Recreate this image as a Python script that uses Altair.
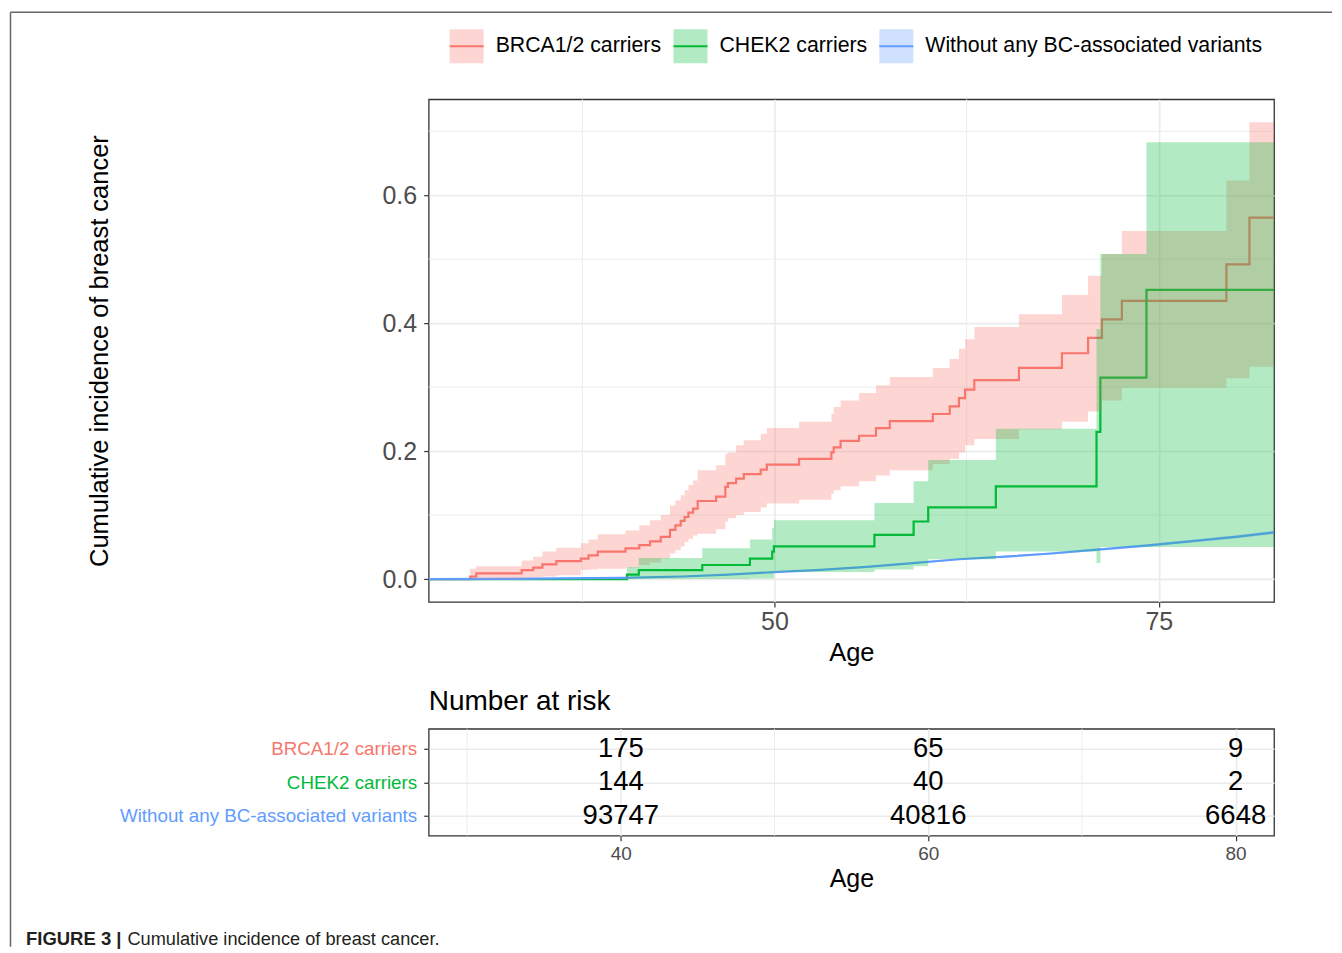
import altair as alt
import pandas as pd

GROUPS = ["BRCA1/2 carriers", "CHEK2 carriers", "Without any BC-associated variants"]
COLORS = ["#F8766D", "#00BA38", "#619CFF"]
LIGHT = ["rgba(248,118,109,0.3)", "rgba(0,186,56,0.3)", "rgba(97,156,255,0.3)"]

# ---- BRCA1/2 carriers: step curve (age, estimate, lower CI, upper CI)
brca_age = [27.5, 30.2, 30.6, 33.55, 34.3, 34.9, 35.8, 37.4, 37.9, 38.5, 40.3, 41.2,
            41.9, 42.6, 43.2, 43.55, 43.9, 44.15, 44.4, 44.7, 45.0, 46.2, 46.8, 46.97,
            47.5, 48.0, 49.1, 49.5, 51.6, 53.7, 53.85, 54.3, 55.5, 56.6, 57.5, 60.3,
            61.4, 62.0, 62.4, 63.0, 65.9, 68.7, 70.4, 71.3, 72.6, 79.4, 80.9, 82.5]
brca_est = [0.0, 0.004, 0.009, 0.014, 0.018, 0.023, 0.028, 0.032, 0.037, 0.043, 0.048, 0.053,
            0.059, 0.066, 0.077, 0.084, 0.091, 0.097, 0.104, 0.110, 0.122, 0.129, 0.144, 0.150,
            0.157, 0.164, 0.171, 0.179, 0.188, 0.198, 0.206, 0.216, 0.224, 0.236, 0.247, 0.258,
            0.270, 0.283, 0.296, 0.311, 0.330, 0.353, 0.377, 0.406, 0.435, 0.492, 0.565, 0.565]
brca_lo = [0.0, 0.0, 0.001, 0.002, 0.003, 0.004, 0.006, 0.014, 0.015, 0.016, 0.018, 0.022,
           0.026, 0.032, 0.040, 0.045, 0.051, 0.058, 0.063, 0.068, 0.071, 0.078, 0.090, 0.095,
           0.100, 0.105, 0.112, 0.118, 0.124, 0.1335, 0.139, 0.145, 0.153, 0.162, 0.170, 0.180,
           0.188, 0.198, 0.209, 0.219, 0.234, 0.246, 0.262, 0.279, 0.299, 0.314, 0.332, 0.332]
brca_hi = [0.0, 0.016, 0.020, 0.029, 0.035, 0.043, 0.049, 0.056, 0.062, 0.070, 0.076, 0.084,
           0.092, 0.100, 0.115, 0.123, 0.131, 0.139, 0.147, 0.154, 0.170, 0.178, 0.196, 0.198,
           0.209, 0.217, 0.227, 0.236, 0.246, 0.258, 0.269, 0.279, 0.291, 0.303, 0.316, 0.330,
           0.344, 0.360, 0.375, 0.394, 0.414, 0.444, 0.474, 0.508, 0.544, 0.623, 0.714, 0.714]

# ---- CHEK2 carriers
chek_age = [27.5, 40.4, 41.17, 45.3, 48.4, 49.85, 49.96, 56.5, 59.05, 60.0, 64.4, 70.95, 71.2, 74.2, 82.5]
chek_est = [0.0, 0.007, 0.014, 0.022, 0.032, 0.043, 0.051, 0.069, 0.090, 0.112, 0.145, 0.230, 0.315, 0.452, 0.452]
chek_lo = [0.0, 0.0, 0.0, 0.0, 0.001, 0.001, 0.011, 0.015, 0.020, 0.031, 0.043, 0.025, 0.050, 0.050, 0.050]
chek_hi = [0.0, 0.019, 0.033, 0.048, 0.062, 0.080, 0.092, 0.119, 0.153, 0.186, 0.235, 0.391, 0.508, 0.683, 0.683]

# ---- Without any BC-associated variants (large cohort, near-smooth curve)
wt_age = [27.5, 32, 36, 40, 44, 47, 50, 53, 56, 59, 62, 65, 68, 71, 74, 77, 80, 82.5]
wt_est = [0.0, 0.0003, 0.001, 0.002, 0.004, 0.007, 0.011, 0.0145, 0.019, 0.025, 0.031, 0.035,
          0.040, 0.046, 0.052, 0.059, 0.066, 0.073]
wt_lo = [0.0, 0.0001, 0.0006, 0.0015, 0.0034, 0.0063, 0.0102, 0.0136, 0.0180, 0.0239, 0.0297,
         0.0336, 0.0384, 0.0443, 0.0501, 0.0568, 0.0636, 0.0704]
wt_hi = [0.0, 0.0005, 0.0014, 0.0025, 0.0046, 0.0077, 0.0118, 0.0154, 0.0200, 0.0261, 0.0323,
         0.0364, 0.0416, 0.0477, 0.0539, 0.0612, 0.0684, 0.0756]

# ---- Number at risk table
risk_age = [40, 60, 80]
risk_brca = [175, 65, 9]
risk_chek = [144, 40, 2]
risk_wt = [93747, 40816, 6648]

# ---- Axes / grid
X_DOMAIN = [27.5, 82.5]
Y_DOMAIN = [-0.0357, 0.75]
x_major = [50, 75]
x_minor = [37.5, 62.5]
y_major = [0.0, 0.2, 0.4, 0.6]
y_minor = [0.1, 0.3, 0.5, 0.7]
tab_x_major = [40, 60, 80]
tab_x_minor = [30, 50, 70]

FONT = "Liberation Sans"
W, H_TOP, H_TAB = 846, 503, 107
GRID = "#EBEBEB"
DARK = "#333333"
TICKLAB = "#4D4D4D"
LINE_W = 2.2


def curve_df(name, age, est, lo, hi):
    return pd.DataFrame({"group": name, "age": age, "est": est, "lo": lo, "hi": hi})


steps = pd.concat([curve_df(GROUPS[0], brca_age, brca_est, brca_lo, brca_hi),
                   curve_df(GROUPS[1], chek_age, chek_est, chek_lo, chek_hi)],
                  ignore_index=True)
smooth = curve_df(GROUPS[2], wt_age, wt_est, wt_lo, wt_hi)

risk = pd.DataFrame({
    "group": [GROUPS[0]] * 3 + [GROUPS[1]] * 3 + [GROUPS[2]] * 3,
    "age": risk_age * 3,
    "n": [str(v) for v in risk_brca + risk_chek + risk_wt],
})


def xtop(field):
    return alt.X(f"{field}:Q", scale=alt.Scale(domain=X_DOMAIN, nice=False, zero=False),
                 axis=alt.Axis(values=x_major, format="d", title="Age", titleY=59,
                               titleBaseline="alphabetic", titleFontSize=25.5, titleColor="black",
                               titleFontWeight="normal", labelFontSize=25, labelColor=TICKLAB,
                               labelPadding=3, tickSize=5, tickColor=DARK, tickWidth=1.2,
                               domain=False, grid=True, gridColor=GRID, gridWidth=1.6))


def ytop(field):
    return alt.Y(f"{field}:Q", scale=alt.Scale(domain=Y_DOMAIN, nice=False, zero=False),
                 axis=alt.Axis(values=y_major, format=".1f",
                               title="Cumulative incidence of breast cancer",
                               titleX=-321, titleY=H_TOP / 2, titleAngle=270,
                               titleBaseline="alphabetic", titleAlign="center",
                               titleFontSize=25.5, titleColor="black", titleFontWeight="normal",
                               labelFontSize=25, labelColor=TICKLAB, labelPadding=7,
                               tickSize=5, tickColor=DARK, tickWidth=1.2, domain=False,
                               grid=True, gridColor=GRID, gridWidth=1.6))


# One merged legend (fill scale + stroke scale share the same domain):
# light filled square with the group's line through its middle.
# The path draws the middle line first; the dash keeps only that first segment stroked.
KEY_PATH = "M-1,0L1,0L1,1L-1,1L-1,-1L1,-1L1,0"


def key_legend():
    return alt.Legend(title=None, orient="none", legendX=20, legendY=-71,
                      direction="horizontal", symbolType=KEY_PATH, symbolSize=1156,
                      symbolStrokeWidth=2, symbolDash=[34, 400],
                      labelFontSize=21.3, labelColor="black",
                      labelOffset=11, columnPadding=8, padding=0, labelLimit=600)


stroke_enc = alt.Stroke("group:N", scale=alt.Scale(domain=GROUPS, range=COLORS), legend=key_legend())
fill_enc = alt.Fill("group:N", scale=alt.Scale(domain=GROUPS, range=LIGHT), legend=key_legend())

xminor = alt.Chart(pd.DataFrame({"v": x_minor})).mark_rule(color=GRID, strokeWidth=0.9).encode(x=xtop("v"))
yminor = alt.Chart(pd.DataFrame({"v": y_minor})).mark_rule(color=GRID, strokeWidth=0.9).encode(y=ytop("v"))

frame_df = pd.DataFrame({"k": [0]})
frame_left = alt.Chart(frame_df).mark_rule(color="#666666", strokeWidth=1.5).encode(
    x=alt.value(-418.5), y=alt.value(-87), y2=alt.value(848))
frame_top = alt.Chart(frame_df).mark_rule(color="#666666", strokeWidth=1.5).encode(
    x=alt.value(-418.5), x2=alt.value(904), y=alt.value(-87))

step_lines = alt.Chart(steps).mark_line(interpolate="step-after", strokeWidth=LINE_W, clip=True).encode(
    x=xtop("age"), y=ytop("est"), stroke=stroke_enc, detail="group:N")
wt_line = alt.Chart(smooth).mark_line(interpolate="linear", strokeWidth=LINE_W, clip=True).encode(
    x=xtop("age"), y=ytop("est"), stroke=stroke_enc)
step_bands = alt.Chart(steps).mark_area(interpolate="step-after", fillOpacity=1, clip=True).encode(
    x=xtop("age"), y=ytop("lo"), y2=alt.Y2("hi"), fill=fill_enc)
wt_band = alt.Chart(smooth).mark_area(interpolate="linear", fillOpacity=1, clip=True).encode(
    x=xtop("age"), y=ytop("lo"), y2=alt.Y2("hi"), fill=fill_enc)

top = alt.layer(xminor, yminor, frame_left, frame_top, step_lines, wt_line, step_bands, wt_band).properties(
    width=W, height=H_TOP)

# ---- risk table
label_color = {
    "condition": [
        {"test": "datum.value === 'BRCA1/2 carriers'", "value": COLORS[0]},
        {"test": "datum.value === 'CHEK2 carriers'", "value": COLORS[1]},
    ],
    "value": COLORS[2],
}


def xtab(field):
    return alt.X(f"{field}:Q", scale=alt.Scale(domain=X_DOMAIN, nice=False, zero=False),
                 axis=alt.Axis(values=tab_x_major, format="d", title="Age", titleY=51,
                               titleBaseline="alphabetic", titleFontSize=25, titleColor="black",
                               titleFontWeight="normal", labelFontSize=19, labelColor=TICKLAB,
                               labelPadding=4, tickSize=5, tickColor=DARK, tickWidth=1.2,
                               domain=False, grid=True, gridColor=GRID, gridWidth=1.6))


ytab = alt.Y("group:N", scale=alt.Scale(domain=GROUPS, type="point", padding=0.6),
             axis=alt.Axis(title=None, labelFontSize=18.8, labelColor=label_color, labelLimit=500,
                           labelPadding=7, tickSize=5, tickColor=DARK, tickWidth=1.2,
                           domain=False, grid=True, gridColor=GRID, gridWidth=1.6))

tab_minor = alt.Chart(pd.DataFrame({"v": tab_x_minor})).mark_rule(color=GRID, strokeWidth=0.9).encode(x=xtab("v"))
tab_text = alt.Chart(risk).mark_text(fontSize=27.5, color="black", baseline="middle", align="center").encode(
    x=xtab("age"), y=ytab, text="n:N")

cap_bold = alt.Chart(pd.DataFrame({"t": ["FIGURE 3 |"]})).mark_text(
    align="left", baseline="alphabetic", fontSize=18.5, fontWeight="bold", color="#231F20").encode(
    x=alt.value(-403), y=alt.value(216), text="t:N")
cap_text = alt.Chart(pd.DataFrame({"t": ["Cumulative incidence of breast cancer."]})).mark_text(
    align="left", baseline="alphabetic", fontSize=18.2, color="#231F20").encode(
    x=alt.value(-301.5), y=alt.value(216), text="t:N")

table = alt.layer(tab_minor, tab_text, cap_bold, cap_text).properties(
    width=W, height=H_TAB,
    title=alt.Title("Number at risk", anchor="start", frame="group", fontSize=28,
                    fontWeight="normal", color="black", offset=12))

chart = alt.vconcat(top, table, spacing=127, bounds="flush").properties(
    padding={"left": 1, "top": 2, "right": 0, "bottom": 0}
).configure(font=FONT).configure_view(stroke=DARK, strokeWidth=1.3)

chart.save("out.html", embed_options={"renderer": "svg", "actions": False})
